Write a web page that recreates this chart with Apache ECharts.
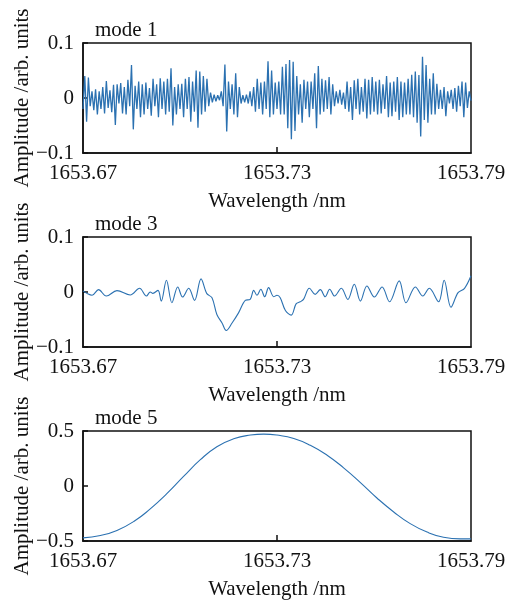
<!DOCTYPE html>
<html>
<head>
<meta charset="utf-8">
<script src="https://cdn.jsdelivr.net/npm/echarts@6/dist/echarts.min.js"></script>
<style>
  html, body { margin: 0; padding: 0; background: #fff; }
  #chart { width: 507px; height: 601px; }
</style>
</head>
<body>
<div id="chart"></div>
<script>
// panel labels and axis ticks
const panelTitles = ['mode 1', 'mode 3', 'mode 5']
const xTicks = [1653.67, 1653.73, 1653.79]
const xMidTick = [1653.73]
const yTicksSmall = [-0.1, 0, 0.1]
const yTicksLarge = [-0.5, 0, 0.5]

// mode 1: evenly sampled, read peak by peak from the picture
const mode1Start = 1653.67
const mode1End = 1653.79
const mode1Amp = [
  -0.02, 0.04, -0.043, 0.037, -0.015, 0.012, -0.022, 0.016, -0.03, 0.012, -0.02, 0.02, -0.028, 0.031, -0.018, 0.014, -0.026, 0.024,
  -0.049, 0.025, -0.01, 0.027, -0.028, 0.02, -0.03, 0.033, -0.015, 0.06, -0.057, 0.022, -0.02, 0.03, -0.035, 0.025, -0.03, 0.028,
  -0.02, 0.018, -0.032, 0.035, -0.015, 0.025, -0.035, 0.036, -0.02, 0.03, -0.03, 0.035, -0.025, 0.054, -0.05, 0.02, -0.03, 0.025,
  -0.02, 0.026, -0.035, 0.035, -0.02, 0.038, -0.043, 0.03, -0.025, 0.05, -0.054, 0.048, -0.03, 0.04, -0.025, 0.035, -0.015, 0.01,
  -0.008, 0.006, -0.006, 0.005, -0.004, 0.012, -0.015, 0.061, -0.061, 0.03, -0.02, 0.025, -0.03, 0.045, -0.035, 0.02, -0.01, 0.005,
  -0.008, 0.006, -0.01, 0.012, -0.015, 0.02, -0.025, 0.035, -0.02, 0.028, -0.03, 0.03, -0.02, 0.067, -0.035, 0.05, -0.03, 0.028,
  -0.02, 0.03, -0.03, 0.057, -0.03, 0.062, -0.055, 0.069, -0.075, 0.066, -0.06, 0.04, -0.03, 0.025, -0.045, 0.033, -0.02, 0.03,
  -0.035, 0.03, -0.02, 0.045, -0.055, 0.058, -0.03, 0.035, -0.025, 0.032, -0.02, 0.038, -0.03, 0.025, -0.015, 0.012, -0.01, 0.015,
  -0.012, 0.01, -0.02, 0.03, -0.025, 0.02, -0.04, 0.032, -0.02, 0.035, -0.03, 0.02, -0.025, 0.035, -0.037, 0.033, -0.03, 0.038,
  -0.025, 0.03, -0.03, 0.033, -0.028, 0.025, -0.02, 0.04, -0.035, 0.028, -0.033, 0.03, -0.025, 0.038, -0.04, 0.03, -0.035, 0.028,
  -0.03, 0.035, -0.03, 0.042, -0.035, 0.048, -0.045, 0.042, -0.07, 0.075, -0.04, 0.06, -0.045, 0.035, -0.03, 0.045, -0.03, 0.026,
  -0.02, 0.015, -0.02, 0.02, -0.033, 0.012, -0.01, 0.015, -0.02, 0.018, -0.025, 0.022, -0.015, 0.03, -0.035, 0.028, -0.018, 0.012, -0.005
]

// mode 3
const mode3Wl = [
  1653.6700, 1653.6712, 1653.6728, 1653.6748, 1653.6772, 1653.6805, 1653.6846, 1653.6875, 1653.6896, 1653.6908,
  1653.6916, 1653.6932, 1653.6942, 1653.6958, 1653.6975, 1653.6993, 1653.7008, 1653.7027, 1653.7045, 1653.7065,
  1653.7083, 1653.7099, 1653.7114, 1653.7130, 1653.7143, 1653.7161, 1653.7181, 1653.7202, 1653.7217, 1653.7228,
  1653.7238, 1653.7250, 1653.7262, 1653.7274, 1653.7290, 1653.7300, 1653.7310, 1653.7326, 1653.7344, 1653.7359,
  1653.7372, 1653.7382, 1653.7400, 1653.7418, 1653.7434, 1653.7449, 1653.7463, 1653.7478, 1653.7499, 1653.7519,
  1653.7539, 1653.7558, 1653.7578, 1653.7601, 1653.7625, 1653.7648, 1653.7678, 1653.7699, 1653.7728, 1653.7751,
  1653.7771, 1653.7800, 1653.7817, 1653.7838, 1653.7860, 1653.7880, 1653.7900
]
const mode3Amp = [
  0.002, -0.0025, -0.006, 0.0043, -0.0074, 0.0025, -0.0055, 0.0067, -0.0074, 0,
  -0.0025, 0.003, -0.0166, 0.0215, -0.0196, 0.0092, -0.0092, 0.0067, -0.0153, 0.0239,
  -0.003, -0.0104, -0.041, -0.0564, -0.07, -0.0564, -0.038, -0.0153, -0.0135, 0.003,
  -0.006, 0.005, -0.0086, 0.008, -0.0086, -0.006, -0.0104, -0.0337, -0.042, -0.0215,
  -0.0178, -0.0135, 0.0067, -0.0043, 0.0043, -0.0086, 0.005, -0.0074, 0.0067, -0.0135,
  0.0141, -0.0166, 0.011, -0.0092, 0.0092, -0.0178, 0.0202, -0.0196, 0.0092, -0.0074,
  0.0067, -0.0178, 0.0215, -0.0276, -0.0012, 0.0067, 0.0294
]

// mode 5
const mode5Wl = [
  1653.6700, 1653.6754, 1653.6805, 1653.6857, 1653.6908, 1653.6960, 1653.7011, 1653.7063, 1653.7114, 1653.7166,
  1653.7218, 1653.7259, 1653.7300, 1653.7352, 1653.7403, 1653.7455, 1653.7506, 1653.7558, 1653.7609, 1653.7661,
  1653.7712, 1653.7764, 1653.7815, 1653.7867, 1653.7900
]
const mode5Amp = [
  -0.472, -0.450, -0.404, -0.323, -0.208, -0.068, 0.087, 0.239, 0.357, 0.429,
  0.463, 0.472, 0.463, 0.432, 0.370, 0.280, 0.165, 0.031, -0.109, -0.236,
  -0.342, -0.419, -0.466, -0.481, -0.481
]

const FONT = 'Liberation Serif'
const LINE_COLOR = '#2b71b1'
const gridTops = [43, 237, 431]
const gridH = 110

const mode1Step = (mode1End - mode1Start) / (mode1Amp.length - 1)
const mode1Data = mode1Amp.map((v, i) => [mode1Start + i * mode1Step, v])
const mode3Data = mode3Wl.map((w, i) => [w, mode3Amp[i]])
const mode5Data = mode5Wl.map((w, i) => [w, mode5Amp[i]])

const fmtY = v => v === 0 ? '0' : (v < 0 ? '\u2212' + String(-v) : String(v))

const grids = gridTops.map(top => ({
  left: 83, right: 36, top: top, height: gridH,
  show: true, borderColor: '#111', borderWidth: 1.5,
  backgroundColor: 'transparent',
  outerBoundsMode: 'none'
}))

const xAxes = gridTops.map((t, i) => ({
  type: 'value', gridIndex: i,
  min: 1653.67, max: 1653.79,
  name: 'Wavelength /nm', nameLocation: 'middle', nameGap: 38,
  nameMoveOverlap: false,
  nameTextStyle: { fontFamily: FONT, fontSize: 21, color: '#111' },
  axisLine: { show: true, onZero: false, lineStyle: { color: '#111', width: 1.5 } },
  axisTick: { show: true, inside: true, length: 6, customValues: xMidTick, lineStyle: { color: '#111', width: 1.5 } },
  axisLabel: {
    show: true, margin: 10, customValues: xTicks,
    fontFamily: FONT, fontSize: 21, color: '#111',
    formatter: v => v.toFixed(2)
  },
  splitLine: { show: false }
}))

const yAxes = gridTops.map((t, i) => {
  const ticks = i === 2 ? yTicksLarge : yTicksSmall
  return {
    type: 'value', gridIndex: i,
    min: ticks[0], max: ticks[2], interval: ticks[2],
    name: 'Amplitude /arb. units', nameLocation: 'middle', nameGap: 50,
    nameMoveOverlap: false,
    nameTextStyle: { fontFamily: FONT, fontSize: 21, color: '#111' },
    axisLine: { show: true, lineStyle: { color: '#111', width: 1.5 } },
    axisTick: { show: true, inside: true, length: 5, lineStyle: { color: '#111', width: 1.5 } },
    axisLabel: { margin: 9, fontFamily: FONT, fontSize: 21, color: '#111', formatter: fmtY },
    splitLine: { show: false }
  }
})

const titles = panelTitles.map((txt, i) => ({
  text: txt, left: 95, top: gridTops[i] - 23,
  padding: 0,
  textStyle: { fontFamily: FONT, fontSize: 21, fontWeight: 'normal', color: '#111' }
}))

const lineSeries = (data, i, width, smooth) => ({
  type: 'line', xAxisIndex: i, yAxisIndex: i,
  data: data, showSymbol: false, symbol: 'none',
  smooth: smooth,
  lineStyle: { color: LINE_COLOR, width: width },
  animation: false
})

const chart = echarts.init(document.getElementById('chart'))
chart.setOption({
  backgroundColor: '#fff',
  animation: false,
  title: titles,
  grid: grids,
  xAxis: xAxes,
  yAxis: yAxes,
  series: [
    lineSeries(mode1Data, 0, 1.3, false),
    lineSeries(mode3Data, 1, 1.1, 0.35),
    lineSeries(mode5Data, 2, 1.1, 0.5)
  ]
})
</script>
</body>
</html>
